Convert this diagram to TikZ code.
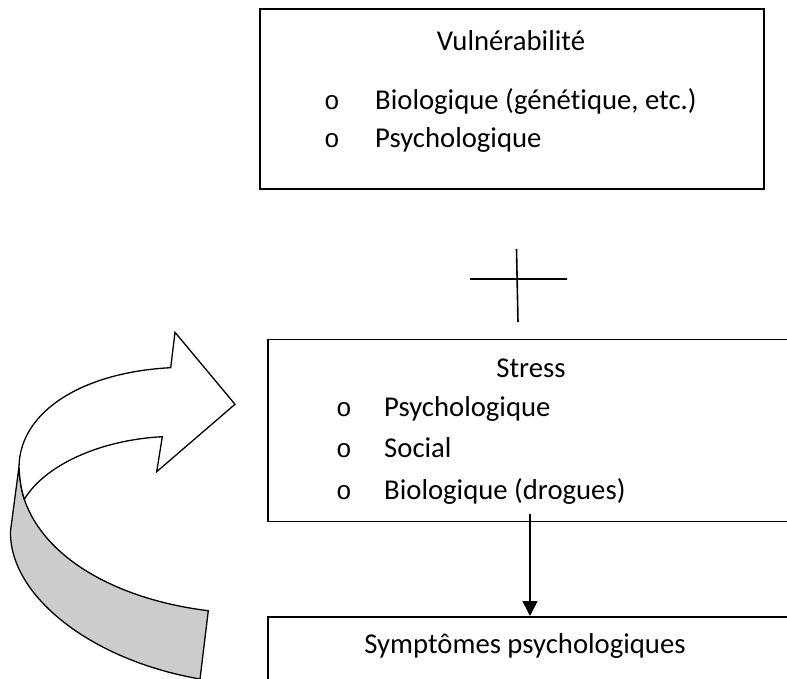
\documentclass[tikz,border=0pt]{standalone}
\usepackage{fontspec}
\setmainfont{Carlito}[Ligatures=NoCommon]
\newfontfamily\bulletfont{Liberation Mono}
\usetikzlibrary{arrows.meta}
\begin{document}
\begin{tikzpicture}[x=1pt,y=-1pt,
  box/.style={draw, line width=1.6pt, inner sep=0pt},
  txt/.style={inner sep=0pt, anchor=base west, font=\fontsize{28.7}{34}\selectfont},
  ctxt/.style={inner sep=0pt, anchor=base, font=\fontsize{28.7}{34}\selectfont},
  bul/.style={inner sep=0pt, anchor=base, font=\bulletfont\fontsize{26}{30}\selectfont},
  curl/.style={draw, line width=1.3pt, line join=miter},
  link/.style={line width=1.8pt, -{Triangle[length=15pt,width=15pt]}},
  plusline/.style={line width=1.6pt}]
\useasboundingbox (0,0) rectangle (787,679);
\clip (0,0) rectangle (787,679);
\fill[white] (0,0) rectangle (787,679);

% boxes
\node[box, anchor=north west, minimum width=504pt, minimum height=180pt] (vuln) at (259,8) {};
\node[box, anchor=north west, minimum width=520pt, minimum height=182pt] (stress) at (267,338.5) {};
\node[box, anchor=north west, minimum width=600pt, minimum height=150pt] (symp) at (267,616) {};

% top box text
\node[ctxt] (tv) at (511,51) {Vulnérabilité};
\node[bul] (b1) at (332,110) {o};
\node[txt] (t1) at (375,110) {Biologique (génétique, etc.)};
\node[bul] (b2) at (332,148) {o};
\node[txt] (t2) at (375,148) {Psychologique};

% stress box text
\node[ctxt] (ts) at (531,377) {Stress};
\node[bul] (s1) at (344,416) {o};
\node[txt] (u1) at (384,416) {Psychologique};
\node[bul] (s2) at (344,457) {o};
\node[txt] (u2) at (384,457) {Social};
\node[bul] (s3) at (344,499) {o};
\node[txt] (u3) at (384,499) {Biologique (drogues)};

% bottom box text
\node[ctxt] (tsym) at (525,653) {Symptômes psychologiques};

% plus sign
\coordinate (ph1) at (470,279);
\coordinate (ph2) at (567,279);
\coordinate (pv1) at (516.5,249);
\coordinate (pv2) at (518,322);
\draw[plusline] (ph1) -- (ph2) (pv1) -- (pv2);

% arrow stress -> symptoms
\coordinate (astart) at (530,514);
\draw[link] (astart) -- (astart |- symp.north);

% curved arrow: grey band
\coordinate (O) at (19,466.7);
\coordinate (L) at (10.5,531);
\coordinate (E1) at (200,679);
\coordinate (E2) at (208.3,610.7);
\coordinate (I) at (24.3,499.3);
\coordinate (N1) at (170.7,367.7);
\coordinate (B1) at (175,332.3);
\coordinate (T) at (235,404.3);
\coordinate (B2) at (156.7,471.7);
\coordinate (N2) at (162.3,436.7);
\draw[curl, fill=black!20] (O) -- (L) .. controls (9,595) and (90,660) .. (E1) -- (E2)
  .. controls (120,600) and (45,560) .. (I) .. controls (21,489) and (19.5,478) .. (O) -- cycle;
% white arrow part
\draw[curl, fill=white] (O) .. controls (20,410) and (85,372) .. (N1) -- (B1) -- (T) -- (B2) -- (N2)
  .. controls (100,440) and (45,465) .. (I) .. controls (21,489) and (19.5,478) .. (O) -- cycle;
\end{tikzpicture}
\end{document}
